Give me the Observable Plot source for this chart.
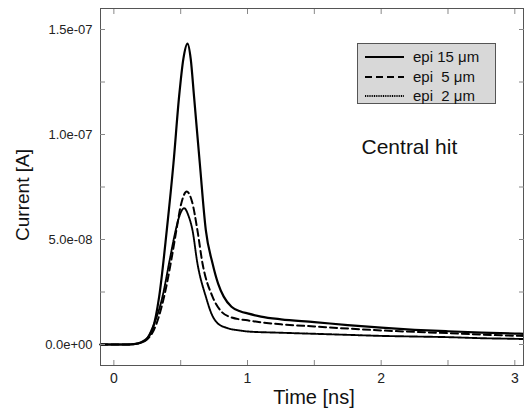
<!DOCTYPE html>
<html><head><meta charset="utf-8">
<script src="https://cdn.jsdelivr.net/npm/d3@7"></script>
<script src="https://cdn.jsdelivr.net/npm/@observablehq/plot@0.6"></script>
<style>
html,body{margin:0;padding:0;background:#fff;}
#wrap{position:relative;width:524px;height:412px;font-family:"Liberation Sans",Arial,sans-serif;}
#legend{position:absolute;left:357px;top:43px;width:137px;height:59px;background:#d8d8d8;border:1px solid #555;}
.row{position:absolute;left:0;height:20px;width:137px;}
.row svg{position:absolute;left:7px;top:0;}
.row span{position:absolute;left:55px;top:1px;font-size:15px;line-height:18px;white-space:pre;color:#111;}
</style></head>
<body><div id="wrap"></div>
<script>
// ---- data ----
const seriesNames = ["epi 15 \u03bcm", "epi  5 \u03bcm", "epi  2 \u03bcm"];

const time15 = [-0.1, 0, 0.1, 0.15, 0.2, 0.25, 0.289, 0.339, 0.396, 0.446, 0.488, 0.52, 0.551, 0.575, 0.60, 0.643, 0.688, 0.738, 0.78, 0.822, 0.88, 0.949, 1.0, 1.1, 1.25, 1.5, 1.75, 2.0, 2.25, 2.5, 2.75, 3.0, 3.065];
const curr15 = [0, 0, 0, 2e-10, 1e-9, 3e-9, 7e-9, 2.28e-8, 5.45e-8, 8.63e-8, 1.18e-7, 1.36e-7, 1.433e-7, 1.36e-7, 1.18e-7, 8.63e-8, 5.45e-8, 3.87e-8, 2.9e-8, 2.28e-8, 1.8e-8, 1.57e-8, 1.48e-8, 1.33e-8, 1.2e-8, 1.07e-8, 9.2e-9, 8.0e-9, 7.0e-9, 6.3e-9, 5.7e-9, 5.2e-9, 5.1e-9];

const time5 = [-0.1, 0, 0.1, 0.15, 0.2, 0.25, 0.30, 0.376, 0.43, 0.468, 0.50, 0.545, 0.585, 0.625, 0.663, 0.738, 0.80, 0.874, 1.0, 1.25, 1.5, 1.75, 2.0, 2.25, 2.5, 2.75, 3.0, 3.065];
const curr5 = [0, 0, 0, 2e-10, 8e-10, 2.5e-9, 7e-9, 2.28e-8, 4.03e-8, 5.45e-8, 6.6e-8, 7.28e-8, 6.8e-8, 5.45e-8, 3.87e-8, 2.28e-8, 1.6e-8, 1.3e-8, 1.15e-8, 9.6e-9, 8.6e-9, 7.6e-9, 6.7e-9, 6.0e-9, 5.4e-9, 4.7e-9, 4.2e-9, 4.1e-9];

const time2 = [-0.1, 0, 0.1, 0.15, 0.2, 0.25, 0.282, 0.364, 0.42, 0.463, 0.495, 0.526, 0.56, 0.588, 0.625, 0.688, 0.735, 0.775, 0.85, 0.95, 1.0, 1.25, 1.5, 1.75, 2.0, 2.25, 2.5, 2.75, 3.0, 3.065];
const curr2 = [0, 0, 0, 2e-10, 8e-10, 3e-9, 7e-9, 2.28e-8, 4.1e-8, 5.45e-8, 6.2e-8, 6.49e-8, 6.1e-8, 5.45e-8, 3.87e-8, 2.28e-8, 1.4e-8, 1.02e-8, 7.8e-9, 6.6e-9, 6.2e-9, 5.6e-9, 5.1e-9, 4.6e-9, 4.1e-9, 3.8e-9, 3.5e-9, 3.0e-9, 2.7e-9, 2.6e-9];

const xTicks = [0, 1, 2, 3];
const xTickLabels = ["0", "1", "2", "3"];
const xMinorTicks = [0, 0.5, 1, 1.5, 2, 2.5, 3];
const yTicks = [0, 5e-8, 1e-7, 1.5e-7];
const yTickLabels = ["0.0e+00", "5.0e-08", "1.0e-07", "1.5e-07"];
const yMinorTicks = [0, 2.5e-8, 5e-8, 7.5e-8, 1e-7, 1.25e-7, 1.5e-7];
const xLabel = "Time [ns]";
const yLabel = "Current [A]";
const annotation = [{t: 1.853, i: 9.4e-8, text: "Central hit"}];

// ---- build tables ----
const toRows = (ts, is) => ts.map((t, k) => ({t, i: is[k]}));
const rows15 = toRows(time15, curr15);
const rows5 = toRows(time5, curr5);
const rows2 = toRows(time2, curr2);

const font = "Liberation Sans, Arial, sans-serif";

const chart = Plot.plot({
  width: 524, height: 412,
  marginLeft: 100, marginRight: 1, marginTop: 8, marginBottom: 47,
  style: {fontFamily: font, background: "#fff", color: "#111"},
  x: {domain: [-0.1, 3.065], label: null},
  y: {domain: [-1e-8, 1.6e-7], label: null},
  marks: [
    Plot.line(rows2, {x: "t", y: "i", stroke: "#000", strokeWidth: 1.9, strokeDasharray: "1,0.8", curve: "monotone-x"}),
    Plot.line(rows5, {x: "t", y: "i", stroke: "#000", strokeWidth: 2, strokeDasharray: "7,4", curve: "monotone-x"}),
    Plot.line(rows15, {x: "t", y: "i", stroke: "#000", strokeWidth: 2.2, curve: "monotone-x"}),
    Plot.frame({stroke: "#555"}),
    Plot.axisX(xMinorTicks, {anchor: "bottom", tickSize: 5, dy: -5, tickFormat: () => "", stroke: "#888", label: null}),
    Plot.axisX(xMinorTicks, {anchor: "top", tickSize: 5, dy: 5, tickFormat: () => "", stroke: "#888", label: null}),
    Plot.axisY(yMinorTicks, {anchor: "left", tickSize: 5, dx: 5, tickFormat: () => "", stroke: "#888", label: null}),
    Plot.axisY(yMinorTicks, {anchor: "right", tickSize: 5, dx: -5, tickFormat: () => "", stroke: "#888", label: null}),
    Plot.axisX(xTicks, {anchor: "bottom", tickSize: 0, tickPadding: 8, fontSize: 14, fill: "#222",
      tickFormat: d => xTickLabels[xTicks.indexOf(d)], label: null}),
    Plot.axisY(yTicks, {anchor: "left", tickSize: 0, tickPadding: 8, fontSize: 13, fill: "#222",
      tickFormat: d => yTickLabels[yTicks.indexOf(d)], label: null}),
    Plot.text([xLabel], {text: d => d, frameAnchor: "bottom", dy: 32, dx: 2, fontSize: 20, textAnchor: "middle", lineAnchor: "middle", fill: "#111"}),
    Plot.text([yLabel], {text: d => d, frameAnchor: "left", dx: -78, dy: 8, rotate: -90, fontSize: 19, textAnchor: "middle", lineAnchor: "middle", fill: "#111"}),
    Plot.text(annotation, {x: "t", y: "i", text: "text", textAnchor: "start", lineAnchor: "middle", fontSize: 21, fill: "#111"})
  ]
});

const wrap = document.getElementById("wrap");
wrap.appendChild(chart);

// ---- legend (inside plot area, as in the reference) ----
const dashes = [null, "7,4", "1,0.8"];
const legend = document.createElement("div");
legend.id = "legend";
seriesNames.forEach((name, k) => {
  const row = document.createElement("div");
  row.className = "row";
  row.style.top = (3 + k * 19.5) + "px";
  row.innerHTML = `<svg width="40" height="20"><line x1="0" y1="10" x2="39" y2="10" stroke="#000" stroke-width="2" ${dashes[k] ? `stroke-dasharray="${dashes[k]}"` : ""}/></svg><span>${name}</span>`;
  legend.appendChild(row);
});
wrap.appendChild(legend);
</script>
</body></html>
